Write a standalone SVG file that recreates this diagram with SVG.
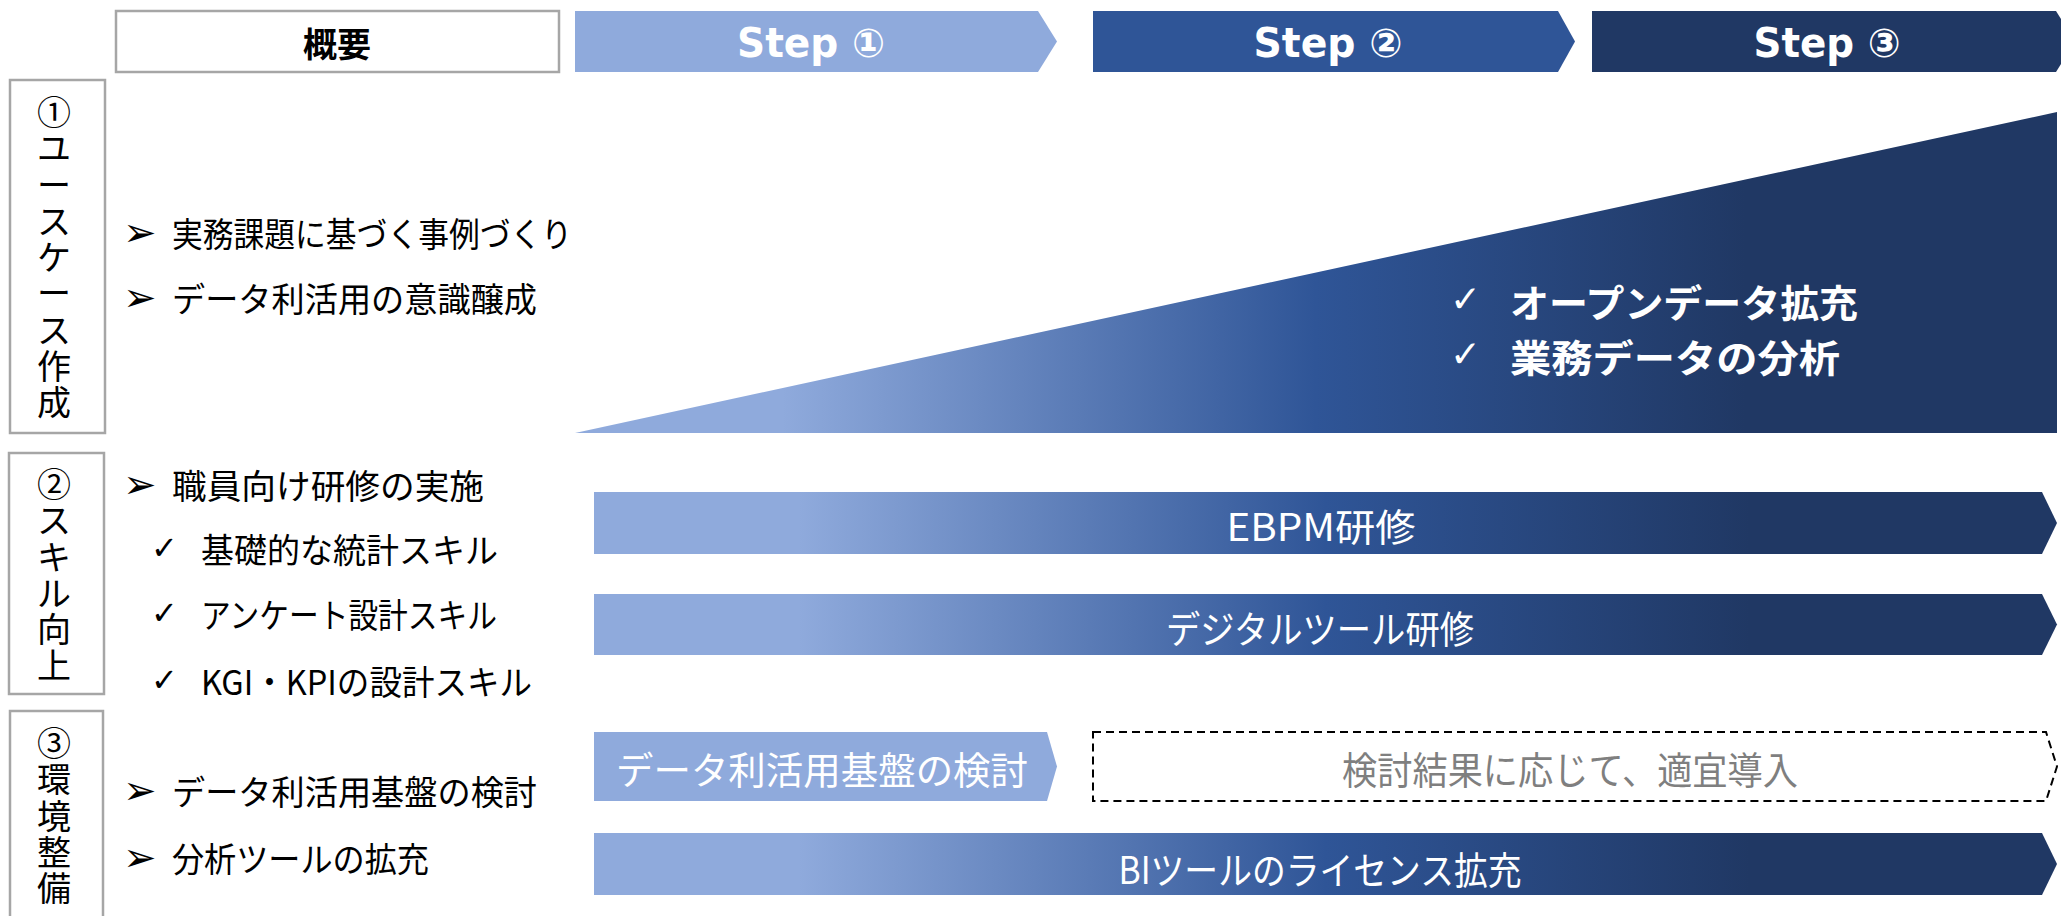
<svg xmlns="http://www.w3.org/2000/svg" width="2061" height="916" viewBox="0 0 2061 916">
<defs>
<linearGradient id="grad" x1="0" y1="0" x2="1" y2="0">
<stop offset="0" stop-color="#8FAADC"/>
<stop offset="0.14" stop-color="#8FAADC"/>
<stop offset="0.5" stop-color="#2F5597"/>
<stop offset="0.79" stop-color="#203864"/>
<stop offset="1" stop-color="#203864"/>
</linearGradient>
<style>
.box{fill:#fff;stroke:#A6A6A6;stroke-width:2.5}
.jp{font-family:"Noto Sans CJK JP","Noto Sans",sans-serif;dominant-baseline:central}
.lt{font-size:34px;fill:#000}
.vt{font-family:"Noto Sans CJK JP","Noto Sans",sans-serif;font-size:34px;fill:#000;writing-mode:vertical-rl;text-orientation:upright;font-feature-settings:"vert" 0,"vrt2" 0;letter-spacing:2.3px}
.bul{font-family:"DejaVu Sans",sans-serif;font-size:40px;fill:#000;dominant-baseline:central}
.chk{font-family:"DejaVu Sans",sans-serif;font-size:32px;fill:#000;dominant-baseline:central}
.wchk{font-family:"DejaVu Sans",sans-serif;font-size:37px;fill:#fff;dominant-baseline:central}
.step{font-family:"DejaVu Sans","Noto Sans CJK JP",sans-serif;font-weight:bold;font-size:40px;fill:#fff;text-anchor:middle}
.bt{font-size:38px;fill:#fff;text-anchor:middle}
.tb{font-size:37.5px;font-weight:bold;fill:#fff}
</style>
</defs>
<rect width="2061" height="916" fill="#fff"/>

<g id="header-overview">
<rect class="box" x="116" y="11" width="443" height="61"/>
<text class="jp" x="337" y="42" font-size="34" font-weight="bold" text-anchor="middle">概要</text>
</g>
<g id="step1">
<path d="M575,11 H1038 L1057,41.5 L1038,72 H575 Z" fill="#8FAADC"/>
<text class="step" x="811" y="57" textLength="148" lengthAdjust="spacingAndGlyphs">Step ①</text>
</g>
<g id="step2">
<path d="M1093,11 H1558 L1575,41.5 L1558,72 H1093 Z" fill="#2F5597"/>
<text class="step" x="1328" y="57" textLength="149" lengthAdjust="spacingAndGlyphs">Step ②</text>
</g>
<g id="step3">
<path d="M1592,11 H2056 L2075,41.5 L2056,72 H1592 Z" fill="#203864"/>
<text class="step" x="1827" y="57" textLength="147" lengthAdjust="spacingAndGlyphs">Step ③</text>
</g>

<g id="cat1">
<rect class="box" x="10" y="80" width="95" height="353"/>
<text class="vt" x="54" y="95">①ユースケース作成</text>
</g>
<g id="cat2">
<rect class="box" x="9" y="453" width="95" height="241"/>
<text class="vt" x="54" y="467">②スキル向上</text>
</g>
<g id="cat3">
<rect class="box" x="10" y="711" width="93" height="230"/>
<text class="vt" x="54" y="726">③環境整備</text>
</g>

<g id="overview1">
<text class="bul" x="123" y="232">➢</text>
<text class="jp lt" x="172" y="232" textLength="400" lengthAdjust="spacingAndGlyphs">実務課題に基づく事例づくり</text>
<text class="bul" x="123" y="297">➢</text>
<text class="jp lt" x="172" y="297" textLength="365" lengthAdjust="spacingAndGlyphs">データ利活用の意識醸成</text>
</g>
<g id="overview2">
<text class="bul" x="123" y="484">➢</text>
<text class="jp lt" x="172" y="484" textLength="312" lengthAdjust="spacingAndGlyphs">職員向け研修の実施</text>
<text class="chk" x="151" y="548">✓</text>
<text class="jp lt" x="201" y="548" textLength="297" lengthAdjust="spacingAndGlyphs">基礎的な統計スキル</text>
<text class="chk" x="151" y="613">✓</text>
<text class="jp lt" x="201" y="613" textLength="296" lengthAdjust="spacingAndGlyphs">アンケート設計スキル</text>
<text class="chk" x="151" y="680">✓</text>
<text class="jp lt" x="201" y="680" textLength="331" lengthAdjust="spacingAndGlyphs">KGI・KPIの設計スキル</text>
</g>
<g id="overview3">
<text class="bul" x="123" y="790">➢</text>
<text class="jp lt" x="172" y="790" textLength="365" lengthAdjust="spacingAndGlyphs">データ利活用基盤の検討</text>
<text class="bul" x="123" y="857">➢</text>
<text class="jp lt" x="172" y="857" textLength="257" lengthAdjust="spacingAndGlyphs">分析ツールの拡充</text>
</g>

<g id="usecase-wedge">
<path d="M575,433 L2057,112 L2057,433 Z" fill="url(#grad)"/>
<text class="wchk" x="1450" y="299">✓</text>
<text class="jp tb" x="1510" y="300" textLength="348" lengthAdjust="spacingAndGlyphs">オープンデータ拡充</text>
<text class="wchk" x="1450" y="354">✓</text>
<text class="jp tb" x="1510" y="355" textLength="330" lengthAdjust="spacingAndGlyphs">業務データの分析</text>
</g>

<g id="ebpm">
<path d="M594,492 H2042 L2057,523 L2042,554 H594 Z" fill="url(#grad)"/>
<text class="jp bt" x="1321" y="524" textLength="189" lengthAdjust="spacingAndGlyphs">EBPM研修</text>
</g>
<g id="digital">
<path d="M594,594 H2042 L2057,624.5 L2042,655 H594 Z" fill="url(#grad)"/>
<text class="jp bt" x="1320" y="626" textLength="308" lengthAdjust="spacingAndGlyphs">デジタルツール研修</text>
</g>
<g id="platform-study">
<path d="M594,732 H1047 L1057,766.5 L1047,801 H594 Z" fill="#8FAADC"/>
<text class="jp bt" x="822" y="767" textLength="412" lengthAdjust="spacingAndGlyphs">データ利活用基盤の検討</text>
</g>
<g id="platform-intro">
<path d="M1093,732 H2046 L2057,766.5 L2046,801 H1093 Z" fill="none" stroke="#000" stroke-width="2" stroke-dasharray="8 5"/>
<text class="jp bt" x="1570" y="767" style="fill:#7F7F7F" textLength="456" lengthAdjust="spacingAndGlyphs">検討結果に応じて、適宜導入</text>
</g>
<g id="bi">
<path d="M594,833 H2042 L2057,864 L2042,895 H594 Z" fill="url(#grad)"/>
<text class="jp bt" x="1320" y="867" textLength="403" lengthAdjust="spacingAndGlyphs">BIツールのライセンス拡充</text>
</g>
<g id="connectors"/>
</svg>
